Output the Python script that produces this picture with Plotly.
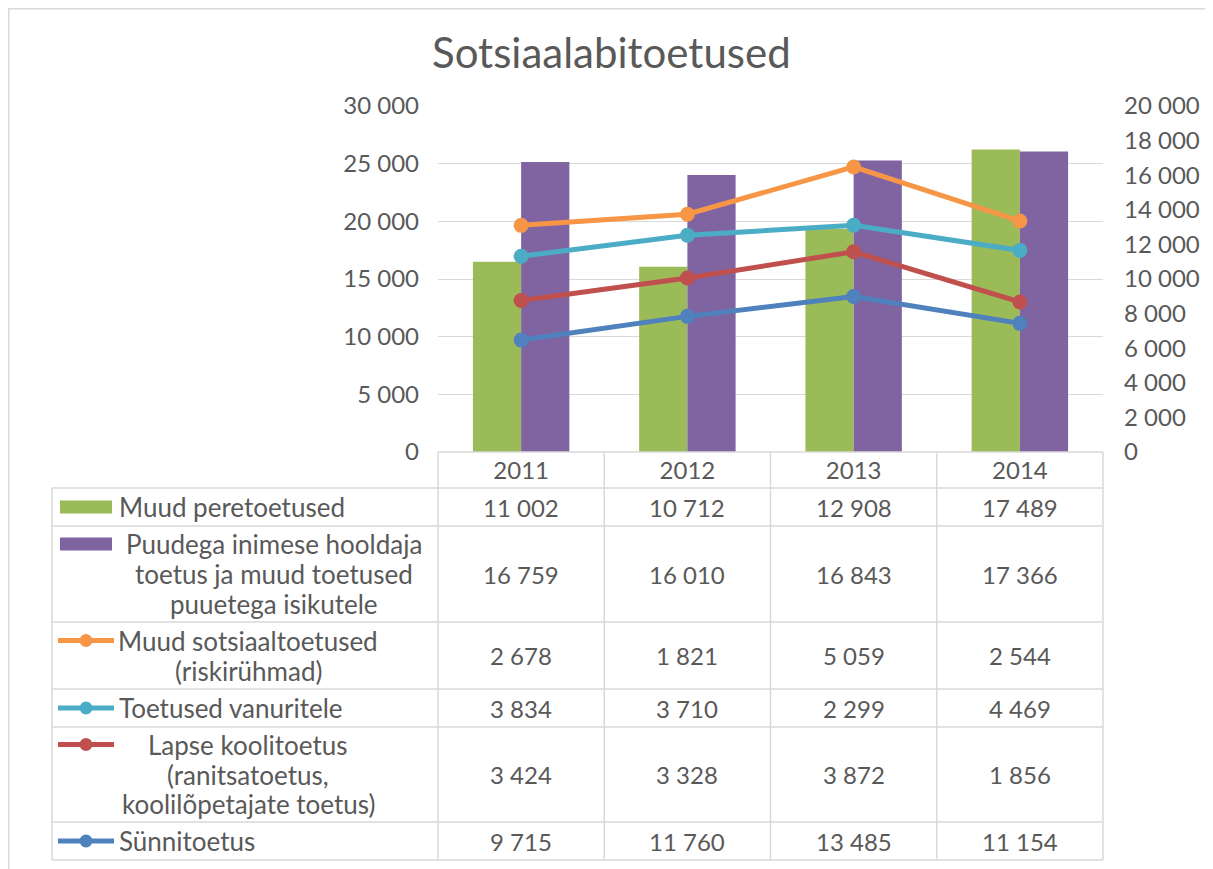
import plotly.graph_objects as go

years = ["2011", "2012", "2013", "2014"]

# bar series (right axis)
muud_peretoetused = [11002, 10712, 12908, 17489]
puudega = [16759, 16010, 16843, 17366]

# stacked line series (left axis), bottom to top
synnitoetus = [9715, 11760, 13485, 11154]
lapse_koolitoetus = [3424, 3328, 3872, 1856]
toetused_vanuritele = [3834, 3710, 2299, 4469]
muud_sotsiaaltoetused = [2678, 1821, 5059, 2544]

label_muud_pere = ["Muud peretoetused"]
label_puudega = ["Puudega inimese hooldaja", "toetus ja muud toetused", "puuetega isikutele"]
label_muud_sots = ["Muud sotsiaaltoetused", "(riskirühmad)"]
label_vanur = ["Toetused vanuritele"]
label_lapse = ["Lapse koolitoetus", "(ranitsatoetus,", "koolilõpetajate toetus)"]
label_synni = ["Sünnitoetus"]

title_text = "Sotsiaalabitoetused"

C_GREEN = "#9BBB59"
C_PURPLE = "#8064A2"
C_ORANGE = "#F79646"
C_CYAN = "#4BACC6"
C_RED = "#C0504D"
C_BLUE = "#4F81BD"
GRID = "#D9D9D9"
TXT = "#595959"
FONT = "Lato"
FS_LAB = 26
FS_NUM = 24

OFF = 8  # browser body margin
PAGE_W, PAGE_H = 1213, 869
FW, FH = PAGE_W - OFF, PAGE_H - OFF
# plot area in page pixels
L, R, T, B = 438, 1103, 106, 452


def xp(px):
    return (px - L) / (R - L)


def yp(py):
    return (B - py) / (B - T)


fig = go.Figure()

fig.add_trace(go.Bar(x=years, y=muud_peretoetused, name=label_muud_pere[0],
                     marker=dict(color=C_GREEN, line=dict(width=0)), yaxis="y"))
fig.add_trace(go.Bar(x=years, y=puudega, name=" ".join(label_puudega),
                     marker=dict(color=C_PURPLE, line=dict(width=0)), yaxis="y"))

line_series = [
    (synnitoetus, label_synni, C_BLUE),
    (lapse_koolitoetus, label_lapse, C_RED),
    (toetused_vanuritele, label_vanur, C_CYAN),
    (muud_sotsiaaltoetused, label_muud_sots, C_ORANGE),
]
for vals, lab, col in line_series:
    fig.add_trace(go.Scatter(x=years, y=vals, name=" ".join(lab), mode="lines+markers",
                             stackgroup="s", fill="none",
                             line=dict(color=col, width=5),
                             marker=dict(color=col, size=15),
                             yaxis="y2"))

fig.update_layout(
    width=FW, height=FH,
    margin=dict(l=L - OFF, r=FW - (R - OFF), t=T - OFF, b=FH - (B - OFF), pad=0),
    paper_bgcolor="white", plot_bgcolor="rgba(0,0,0,0)",
    showlegend=False,
    barmode="group", bargap=0.42, bargroupgap=0,
    separators=", ",
    font=dict(family=FONT, color=TXT, size=FS_NUM),
    xaxis=dict(type="category", range=[-0.5, 3.5], showgrid=False, showline=False,
               zeroline=False, ticks="", tickfont=dict(size=FS_NUM, color=TXT),
               ticklabelstandoff=2),
    yaxis=dict(side="right", range=[0, 20000], dtick=2000, tickformat=",",
               showgrid=False, zeroline=False, showline=False, ticks="",
               tickfont=dict(size=FS_NUM, color=TXT), ticklabelstandoff=20),
    yaxis2=dict(side="left", overlaying="y", range=[0, 30000], dtick=5000, tickformat=",",
                showgrid=True, gridcolor=GRID, gridwidth=1.3, zeroline=False, showline=False,
                ticks="", tickfont=dict(size=FS_NUM, color=TXT), ticklabelstandoff=18),
)

shapes = []
ann = []

# outer chart border
shapes.append(dict(type="rect", xref="paper", yref="paper", x0=xp(8.8), x1=xp(1230),
                   y0=yp(8.8), y1=yp(890), line=dict(color=GRID, width=1.5)))

# table grid
row_edges = [488, 526, 622, 689, 727, 822, 860]
col_edges = [438, 604.25, 770.5, 936.75, 1103]
TBL_L = 52
shapes.append(dict(type="line", xref="paper", yref="paper", x0=xp(L), x1=xp(R),
                   y0=yp(452), y1=yp(452), line=dict(color=GRID, width=1.5)))
for ry in row_edges:
    shapes.append(dict(type="line", xref="paper", yref="paper", x0=xp(TBL_L), x1=xp(R),
                       y0=yp(ry), y1=yp(ry), line=dict(color=GRID, width=1.5)))
for cx in col_edges:
    shapes.append(dict(type="line", xref="paper", yref="paper", x0=xp(cx), x1=xp(cx),
                       y0=yp(452), y1=yp(860), line=dict(color=GRID, width=1.5)))
shapes.append(dict(type="line", xref="paper", yref="paper", x0=xp(TBL_L), x1=xp(TBL_L),
                   y0=yp(488), y1=yp(860), line=dict(color=GRID, width=1.5)))

# table rows: (values, label lines, color, kind, block center x)
rows = [
    (muud_peretoetused, label_muud_pere, C_GREEN, "bar", None),
    (puudega, label_puudega, C_PURPLE, "bar", 274),
    (muud_sotsiaaltoetused, label_muud_sots, C_ORANGE, "line", 248),
    (toetused_vanuritele, label_vanur, C_CYAN, "line", None),
    (lapse_koolitoetus, label_lapse, C_RED, "line", 248),
    (synnitoetus, label_synni, C_BLUE, "line", None),
]
LINE_H = 30
for i, (vals, lab, col, kind, bcx) in enumerate(rows):
    top, bot = row_edges[i], row_edges[i + 1]
    cy = (top + bot) / 2
    n = len(lab)
    first_y = cy - (n - 1) * LINE_H / 2
    # legend key
    if kind == "bar":
        shapes.append(dict(type="rect", xref="paper", yref="paper", x0=xp(60), x1=xp(112),
                           y0=yp(first_y - 6.5), y1=yp(first_y + 6.5),
                           fillcolor=col, line=dict(width=0)))
    else:
        shapes.append(dict(type="line", xref="paper", yref="paper", x0=xp(58), x1=xp(114),
                           y0=yp(first_y), y1=yp(first_y), line=dict(color=col, width=5)))
        shapes.append(dict(type="circle", xref="paper", yref="paper", x0=xp(86 - 6.5), x1=xp(86 + 6.5),
                           y0=yp(first_y - 6.5), y1=yp(first_y + 6.5),
                           fillcolor=col, line=dict(width=0)))
    # label text
    for j, t in enumerate(lab):
        ty = first_y + j * LINE_H
        if bcx is None:
            ann.append(dict(x=xp(117), y=yp(ty), xref="paper", yref="paper", text=t,
                            xanchor="left", yanchor="middle", showarrow=False,
                            font=dict(size=FS_LAB, color=TXT, family=FONT)))
        else:
            ann.append(dict(x=xp(bcx), y=yp(ty), xref="paper", yref="paper", text=t,
                            xanchor="center", yanchor="middle", showarrow=False,
                            font=dict(size=FS_LAB, color=TXT, family=FONT)))
    # values
    for k, v in enumerate(vals):
        cx = (col_edges[k] + col_edges[k + 1]) / 2
        ann.append(dict(x=xp(cx), y=yp(cy), xref="paper", yref="paper",
                        text=f"{v:,}".replace(",", " "),
                        xanchor="center", yanchor="middle", showarrow=False,
                        font=dict(size=FS_NUM, color=TXT, family=FONT)))

# title
ann.append(dict(x=xp(611), y=yp(52), xref="paper", yref="paper", text=title_text,
                xanchor="center", yanchor="middle", showarrow=False,
                font=dict(size=42, color=TXT, family=FONT)))

fig.update_layout(shapes=shapes, annotations=ann)
fig.write_html("out.html")
